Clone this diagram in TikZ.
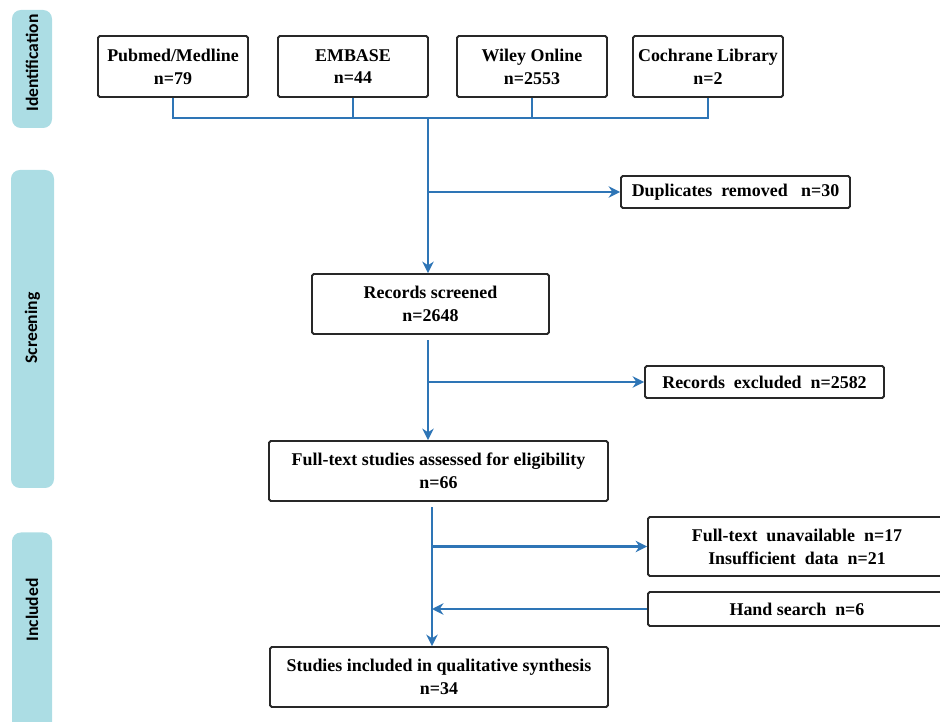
\documentclass[tikz,border=0pt]{standalone}
\usepackage{fontspec}
\setmainfont{Liberation Serif}
\newfontfamily\tabfont{Carlito}
\usetikzlibrary{arrows.meta}

\definecolor{flowblue}{RGB}{46,117,182}
\definecolor{tabcyan}{RGB}{172,221,228}
\definecolor{boxline}{RGB}{40,40,40}

\begin{document}
\begin{tikzpicture}[x=0.02cm, y=-0.02cm, every node/.style={font=\bfseries\fontsize{10.2}{13}\selectfont}]
  % -----------------------------
  % USER SETTINGS
  % -----------------------------
  \def\u{0.02cm}   % one pixel of the original figure

  % -----------------------------
  % STYLES
  % -----------------------------
  \tikzset{
    box/.style={draw=boxline, fill=white, line width=1.1pt, rounded corners=1pt, align=center, inner sep=0pt},
    tab/.style={fill=tabcyan, rounded corners=5pt, rotate=90, inner sep=0pt},
    tabtxt/.style={rotate=90, inner sep=0pt, font=\tabfont\bfseries\fontsize{10}{12}\selectfont},
    link/.style={draw=flowblue, line width=1.6pt},
    flow/.style={link, -{Stealth[length=6.5pt, width=6.5pt]}},
  }

  \useasboundingbox (0,0) rectangle (940,722);

  % -----------------------------
  % PHASE TABS (left)
  % -----------------------------
  \node[tab, minimum width=118*\u, minimum height=40*\u] (tabid)  at (32,69)    {};
  \node[tab, minimum width=318*\u, minimum height=43*\u] (tabscr) at (32.5,329) {};
  \node[tab, minimum width=215*\u, minimum height=40*\u] (tabinc) at (32,640)   {};
  \node[tabtxt] (txtid)  at (32,63)    {Identification};
  \node[tabtxt] (txtscr) at (32.5,328) {Screening};
  \node[tabtxt] (txtinc) at (32,610)   {Included};

  % -----------------------------
  % SOURCES
  % -----------------------------
  \node[box, minimum width=150*\u, minimum height=61*\u] (pub) at (173,66.5) {Pubmed/Medline\\n=79};
  \node[box, minimum width=150*\u, minimum height=61*\u] (emb) at (353,66.5) {EMBASE\\n=44};
  \node[box, minimum width=150*\u, minimum height=61*\u] (wil) at (532,66.5) {Wiley Online\\n=2553};
  \node[box, minimum width=150*\u, minimum height=61*\u] (coc) at (708,66.5) {Cochrane Library\\n=2};

  % -----------------------------
  % MAIN COLUMN + SIDE BOXES
  % -----------------------------
  \node[box, minimum width=229*\u, minimum height=32*\u] (dup)  at (735.5,192) {Duplicates\ \ removed\ \ \ n=30};
  \node[box, minimum width=237*\u, minimum height=60*\u] (scr)  at (430.5,304) {Records screened\\n=2648};
  \node[box, minimum width=239*\u, minimum height=32*\u] (exc)  at (764.5,382) {Records\ \ excluded\ \ n=2582};
  \node[box, minimum width=339*\u, minimum height=60*\u] (full) at (438.5,471) {Full-text studies assessed for eligibility\\n=66};
  \node[box, minimum width=298*\u, minimum height=59*\u] (unav) at (797,546.5) {Full-text\ \ unavailable\ \ n=17\\Insufficient\ \ data\ \ n=21};
  \node[box, minimum width=298*\u, minimum height=34*\u] (hand) at (797,609)   {Hand search\ \ n=6};
  \node[box, minimum width=338*\u, minimum height=60*\u] (incl) at (439,677)   {Studies included in qualitative synthesis\\n=34};

  \coordinate (bus)   at (428,118);
  \coordinate (spine) at (432,505);

  % -----------------------------
  % CONNECTORS
  % -----------------------------
  \draw[link] (pub.south) |- (bus) -| (coc.south);
  \draw[link] (emb.south) -- (emb.south |- bus);
  \draw[link] (wil.south) -- (wil.south |- bus);
  \draw[flow] (bus) -- (bus |- scr.north);
  \draw[flow] (bus |- dup.west) -- (dup.west);

  \draw[flow, shorten <=3pt] (scr.south -| bus) -- (bus |- full.north);
  \draw[flow] (bus |- exc.west) -- (exc.west);

  \draw[flow, shorten <=3pt] (full.south -| spine) -- (spine |- incl.north);
  \draw[flow] (spine |- unav.west) -- (unav.west);
  \draw[flow] (hand.west) -- (spine |- hand.west);
\end{tikzpicture}
\end{document}
